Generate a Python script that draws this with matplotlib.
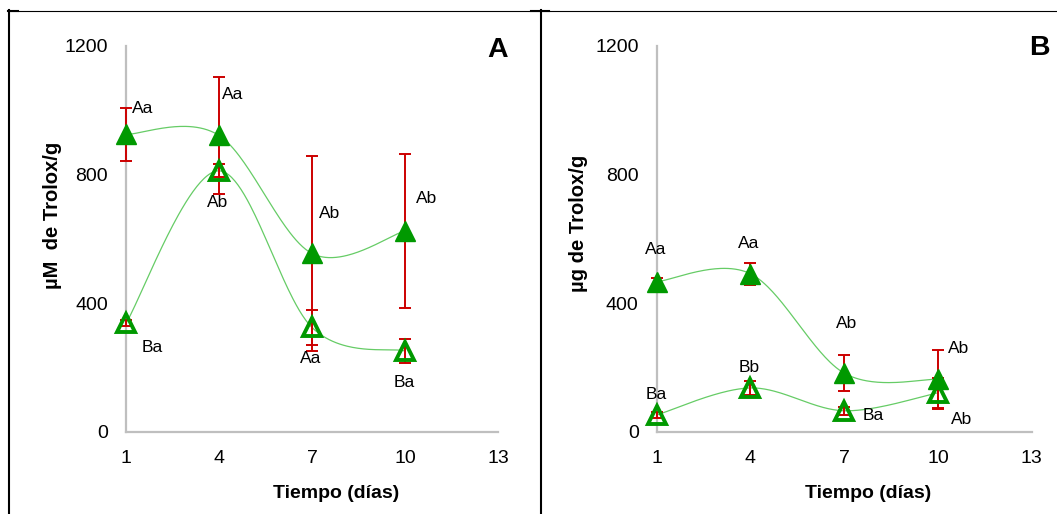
import numpy as np
import matplotlib
matplotlib.use("Agg")
import matplotlib.pyplot as plt
from matplotlib.lines import Line2D

plt.rcParams['font.family'] = ['Liberation Sans', 'DejaVu Sans']

# ---------------- data ----------------
days = [1, 4, 7, 10]

# Panel A (µM de Trolox/g)
a_closed = [925, 922, 555, 625]
a_closed_err = [83, 182, 302, 238]
a_open = [338, 812, 325, 252]
a_open_err = [10, 20, 55, 37]
a_labels = ["Aa", "Aa", "Ab", "Ab", "Ba", "Ab", "Aa", "Ba"]

# Panel B (µg de Trolox/g)
b_closed = [467, 492, 183, 164]
b_closed_err = [12, 34, 57, 92]
b_open = [53, 137, 66, 122]
b_open_err = [8, 22, 12, 46]
b_labels = ["Aa", "Aa", "Ab", "Ab", "Ba", "Bb", "Ba", "Ab"]

x_ticks = [1, 4, 7, 10, 13]
y_ticks = [0, 400, 800, 1200]

# label positions (data coords) - layout only
a_label_pos = [(1.55, 1007), (4.45, 1048), (7.58, 678), (10.71, 727),
               (1.84, 264), (3.97, 715), (6.97, 230), (9.97, 155)]
b_label_pos = [(0.98, 566), (3.95, 587), (7.09, 336), (10.67, 261),
               (0.98, 118), (3.95, 202), (7.92, 50), (10.77, 40)]

GREEN = "#009900"
LINE_GREEN = "#66CC66"
RED = "#CC0000"
GRAY = "#BFBFBF"


def smooth(xs, ys, n=60):
    """Catmull-Rom style Bezier smoothing (like spreadsheet smoothed lines)."""
    P = np.column_stack([xs, ys]).astype(float)
    Pe = np.vstack([P[0], P, P[-1]])
    out = []
    t = np.linspace(0, 1, n)[:, None]
    for i in range(len(P) - 1):
        p0, p3 = Pe[i + 1], Pe[i + 2]
        c1 = p0 + (Pe[i + 2] - Pe[i]) / 6.0
        c2 = p3 - (Pe[i + 3] - Pe[i + 1]) / 6.0
        seg = ((1 - t) ** 3) * p0 + 3 * ((1 - t) ** 2) * t * c1 + 3 * (1 - t) * t ** 2 * c2 + t ** 3 * p3
        out.append(seg)
    S = np.vstack(out)
    return S[:, 0], S[:, 1]


fig = plt.figure(figsize=(10.57, 5.14), dpi=100)
W, H = 1057, 514


def panel(rect, closed, closed_err, opn, opn_err, labels, lpos, ylabel, ylab_y, letter, letter_xy, ylab_x, xlab_x):
    ax = fig.add_axes(rect)
    ax.set_xlim(1, 13)
    ax.set_ylim(0, 1200)
    ax.set_xticks(x_ticks)
    ax.set_yticks(y_ticks)
    ax.tick_params(length=0, labelsize=14, colors="#000000")
    ax.tick_params(axis='x', pad=13)
    ax.tick_params(axis='y', pad=13)
    for s in ["top", "right"]:
        ax.spines[s].set_visible(False)
    for s in ["left", "bottom"]:
        ax.spines[s].set_color(GRAY)
        ax.spines[s].set_linewidth(1.6)
        ax.spines[s].set_zorder(1)

    for ys in (closed, opn):
        sx, sy = smooth(days, ys)
        ax.plot(sx, sy, color=LINE_GREEN, lw=0.9, zorder=2, clip_on=False)

    ax.errorbar(days, closed, yerr=closed_err, fmt="none", ecolor=RED, elinewidth=1.4,
                capsize=4, capthick=1.4, zorder=3, clip_on=False)
    ax.errorbar(days, opn, yerr=opn_err, fmt="none", ecolor=RED, elinewidth=1.4,
                capsize=4, capthick=1.4, zorder=3, clip_on=False)

    ax.plot(days, closed, linestyle="none", marker="^", markersize=15,
            markerfacecolor=GREEN, markeredgecolor=GREEN, markeredgewidth=1, zorder=4, clip_on=False)
    ax.plot(days, opn, linestyle="none", marker="^", markersize=13,
            markerfacecolor="none", markeredgecolor=GREEN, markeredgewidth=2.8, zorder=4, clip_on=False)

    for txt, (x, y) in zip(labels, lpos):
        ax.text(x, y, txt, fontsize=12.5, ha="center", va="center", zorder=5)

    fig.text(ylab_x, ylab_y, ylabel, rotation=90, fontsize=14.5, fontweight="bold",
             ha="center", va="center")
    fig.text(xlab_x, 1 - 493 / H, "Tiempo (días)", fontsize=14, fontweight="bold",
             ha="center", va="center")
    fig.text(letter_xy[0], letter_xy[1], letter, fontsize=20.5, fontweight="bold",
             ha="center", va="center")
    return ax


axA = panel([126 / W, 1 - 432 / H, (498 - 126) / W, (432 - 46) / H],
            a_closed, a_closed_err, a_open, a_open_err, a_labels, a_label_pos,
            "µM  de Trolox/g", 1 - 215 / H, "A", (498 / W, 1 - 50 / H), 52 / W, 336 / W)
axB = panel([656.7 / W, 1 - 432 / H, (1031.7 - 656.7) / W, (432 - 46) / H],
            b_closed, b_closed_err, b_open, b_open_err, b_labels, b_label_pos,
            "µg de Trolox/g", 1 - 223 / H, "B", (1039 / W, 1 - 48 / H), 579 / W, 868 / W)

# border lines (table-like frame)
fig.add_artist(Line2D([8 / W, 1.0], [1 - 10.5 / H, 1 - 10.5 / H], color="black", lw=0.8,
                      transform=fig.transFigure))
fig.add_artist(Line2D([9 / W, 9 / W], [0, 1 - 10 / H], color="black", lw=1.5,
                      transform=fig.transFigure))
fig.add_artist(Line2D([541 / W, 541 / W], [0, 1 - 10 / H], color="black", lw=1.5,
                      transform=fig.transFigure))
fig.add_artist(Line2D([8 / W, 18 / W], [1 - 11 / H, 1 - 11 / H], color="black", lw=1.5,
                      transform=fig.transFigure))
fig.add_artist(Line2D([531 / W, 549 / W], [1 - 11 / H, 1 - 11 / H], color="black", lw=1.5,
                      transform=fig.transFigure))

fig.savefig("out.png", dpi=100, facecolor="white")
